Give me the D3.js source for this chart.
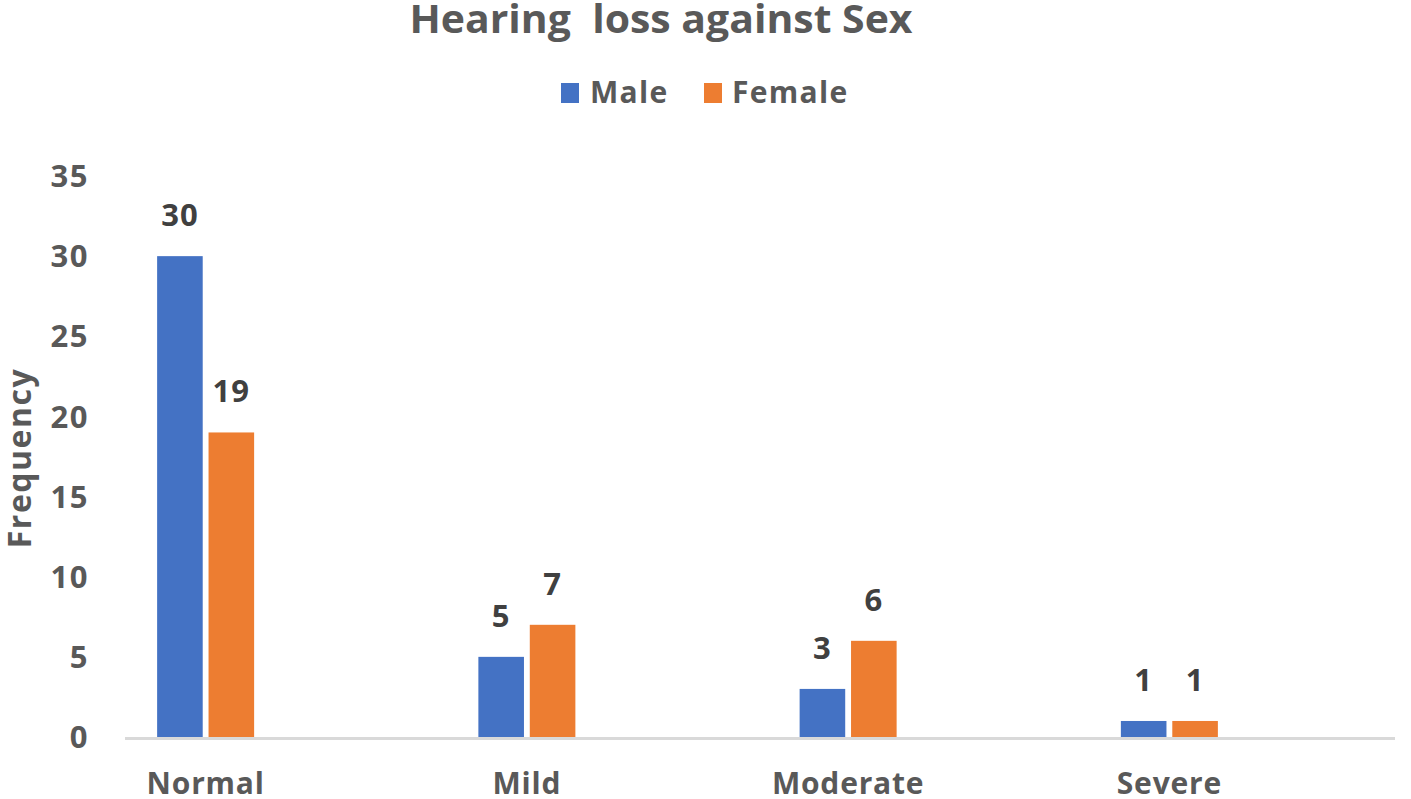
<!DOCTYPE html>
<html><head><meta charset="utf-8">
<script src="https://cdn.jsdelivr.net/npm/d3@7"></script>
<style>body{margin:0;background:#fff}svg{display:block}</style>
</head><body>
<svg id="c" width="1411" height="799"></svg>
<script>
const categories = ["Normal", "Mild", "Moderate", "Severe"];
const seriesNames = ["Male", "Female"];
const male = [30, 5, 3, 1];
const female = [19, 7, 6, 1];
const yTicks = [0, 5, 10, 15, 20, 25, 30, 35];
const colors = ["#4472C4", "#ED7D31"];
const values = [male, female];

const svg = d3.select("#c");
const font = "'Open Sans', 'Noto Sans', sans-serif";

const x = d3.scaleBand().domain(categories).range([45, 1330]);
const xs = d3.scaleBand().domain(seriesNames).range([0, 97]).paddingInner(11/97);
const y = d3.scaleLinear().domain([0, 35]).range([737, 176]);

// title
svg.append("text").attr("x", 661).attr("y", 33).attr("text-anchor", "middle")
  .attr("font-family", font).attr("font-weight", 700).attr("font-size", 40)
  .attr("fill", "#595959").attr("textLength", 503).attr("lengthAdjust", "spacingAndGlyphs")
  .style("white-space", "pre").attr("xml:space", "preserve")
  .text("Hearing  loss against Sex");

// legend
const leg = [{n:"Male", rx:561, tx:590}, {n:"Female", rx:704, tx:732}];
leg.forEach((d,i)=>{
  svg.append("rect").attr("x", d.rx).attr("y", 83).attr("width", 18).attr("height", 20).attr("fill", colors[i]);
  svg.append("text").attr("x", d.tx).attr("y", 103).attr("font-family", font).attr("font-weight", 700)
    .attr("font-size", 30).attr("letter-spacing", 1.3).attr("fill", "#595959").text(d.n);
});

// y tick labels
svg.append("g").selectAll("text").data(yTicks).join("text")
  .attr("x", 89).attr("y", d => y(d)).attr("dy", "0.36em").attr("text-anchor", "end")
  .attr("font-family", font).attr("font-weight", 700).attr("font-size", 31).attr("letter-spacing", 1.5)
  .attr("fill", "#595959").text(d => d);

// y axis title
svg.append("text").attr("transform", "translate(31,458) rotate(-90)").attr("text-anchor", "middle")
  .attr("font-family", font).attr("font-weight", 700).attr("font-size", 32).attr("letter-spacing", 1.5)
  .attr("fill", "#595959").text("Frequency");

// bars
const bars = [];
categories.forEach((c, ci) => seriesNames.forEach((s, si) => bars.push({c, s, si, v: values[si][ci]})));
const bx = d => x(d.c) + x.bandwidth()/2 - 48.5 + xs(d.s);
svg.append("g").selectAll("rect").data(bars).join("rect")
  .attr("x", bx).attr("y", d => y(d.v)).attr("width", xs.bandwidth())
  .attr("height", d => y(0) - y(d.v)).attr("fill", d => colors[d.si]);

// value labels
svg.append("g").selectAll("text").data(bars).join("text")
  .attr("x", d => bx(d) + xs.bandwidth()/2).attr("y", d => y(d.v) - 30)
  .attr("text-anchor", "middle").attr("font-family", font).attr("font-weight", 700)
  .attr("font-size", 31).attr("letter-spacing", 1).attr("fill", "#404040").text(d => d.v);

// axis line
svg.append("line").attr("x1", 125).attr("x2", 1395).attr("y1", y(0)+1.5).attr("y2", y(0)+1.5)
  .attr("stroke", "#d9d9d9").attr("stroke-width", 3);

// category labels
svg.append("g").selectAll("text").data(categories).join("text")
  .attr("x", d => x(d) + x.bandwidth()/2).attr("y", 794)
  .attr("text-anchor", "middle").attr("font-family", font).attr("font-weight", 700)
  .attr("font-size", 30).attr("letter-spacing", 0.8).attr("fill", "#595959").text(d => d);
</script>
</body></html>
